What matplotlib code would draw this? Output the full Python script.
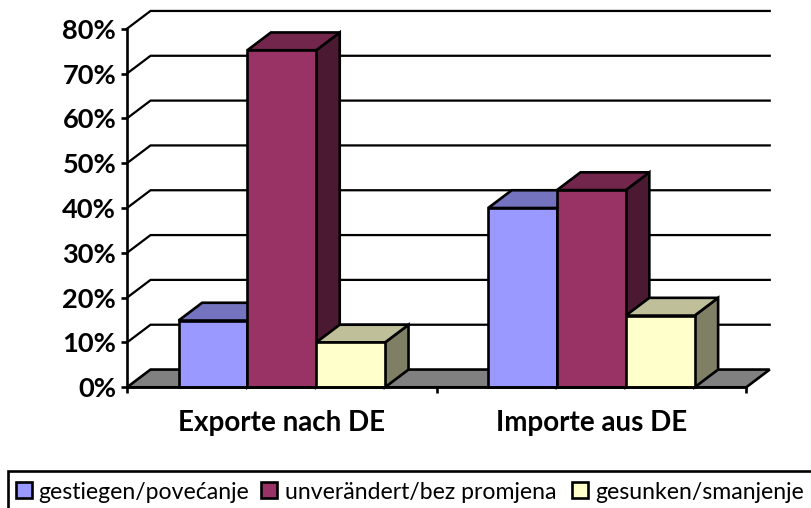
import matplotlib
matplotlib.use('Agg')
import matplotlib.pyplot as plt
from matplotlib.patches import Polygon, Rectangle

categories = ['Exporte nach DE', 'Importe aus DE']
series_names = ['gestiegen/povećanje', 'unverändert/bez promjena', 'gesunken/smanjenje']
gestiegen = [14.9, 40]
unveraendert = [75.2, 44]
gesunken = [10, 16]
y_ticks = [0, 10, 20, 30, 40, 50, 60, 70, 80]

front_colors = ['#9999FF', '#993366', '#FFFFCC']
top_colors = ['#7373BF', '#73264C', '#BFBF99']
side_colors = ['#4C4C7F', '#4C1933', '#7F7F66']

# 3d depth, x in category units and y in percent
DX = 0.076
DY = 3.96
BAR_W = 1 / 4.5
LW = 1.9

plt.rcParams['font.family'] = ['Lato', 'DejaVu Sans']

W, H = 812, 508
fig = plt.figure(figsize=(W / 100, H / 100), dpi=100)
ax = fig.add_axes([127 / W, 1 - 387.3 / H, 619.2 / W, 358.6 / H])
ax.set_xlim(0, 2)
ax.set_ylim(0, 80)
ax.patch.set_alpha(0)

# floor and gridlines on the back wall
ax.add_patch(Polygon([(0, 0), (DX, DY), (2 + DX, DY), (2, 0)], closed=True,
                     facecolor='#808080', edgecolor='black', lw=LW, clip_on=False, zorder=1))
for v in y_ticks[1:]:
    ax.plot([0, DX, 2 + DX], [v, v + DY, v + DY], color='black', lw=LW * 0.85,
            clip_on=False, zorder=1, solid_joinstyle='miter')

series = [gestiegen, unveraendert, gesunken]
for c in range(len(categories)):
    for s in range(3):
        x0 = c + 0.5 - 1.5 * BAR_W + s * BAR_W
        x1 = x0 + BAR_W
        v = series[s][c]
        z = 2 + c * 3 + s
        ax.add_patch(Polygon([(x1, 0), (x1 + DX, DY), (x1 + DX, v + DY), (x1, v)], closed=True,
                             facecolor=side_colors[s], edgecolor='black', lw=LW,
                             clip_on=False, zorder=z, joinstyle='miter'))
        ax.add_patch(Polygon([(x0, v), (x0 + DX, v + DY), (x1 + DX, v + DY), (x1, v)], closed=True,
                             facecolor=top_colors[s], edgecolor='black', lw=LW,
                             clip_on=False, zorder=z, joinstyle='miter'))
        ax.bar(x0, v, width=BAR_W, align='edge', color=front_colors[s], edgecolor='black',
               lw=LW, clip_on=False, zorder=z + 0.5)

for side in ['top', 'right']:
    ax.spines[side].set_visible(False)
for side in ['left', 'bottom']:
    ax.spines[side].set_linewidth(LW)
    ax.spines[side].set_zorder(20)

ax.set_yticks(y_ticks)
ax.set_yticklabels(['{0}%'.format(v) for v in y_ticks], fontsize=19.6, fontweight='bold')
ax.tick_params(axis='y', length=4.3, width=LW, pad=3.5)
ax.set_xticks([0, 1, 2])
ax.set_xticklabels([])
ax.tick_params(axis='x', which='major', length=4.3, width=LW)
ax.set_xticks([0.5, 1.5], minor=True)
ax.set_xticklabels(categories, minor=True, fontsize=20, fontweight='bold')
ax.tick_params(axis='x', which='minor', length=0, pad=16.5)

# legend box runs off the bottom and right of the picture
fig.add_artist(Rectangle((7.5 / W, -0.05), 1, 1 - 470.7 / H + 0.05, transform=fig.transFigure,
                         facecolor='none', edgecolor='black', lw=LW))
swatch_x = [16, 261, 572]
text_x = [38, 285, 595]
for i, name in enumerate(series_names):
    fig.add_artist(Rectangle((swatch_x[i] / W, 1 - 498 / H), 16 / W, 16 / H,
                             transform=fig.transFigure, facecolor=front_colors[i],
                             edgecolor='black', lw=LW))
    fig.text(text_x[i] / W, 1 - 492.5 / H, name, fontsize=16.6, va='center', ha='left', color='black')

plt.savefig('out.png', dpi=100)
